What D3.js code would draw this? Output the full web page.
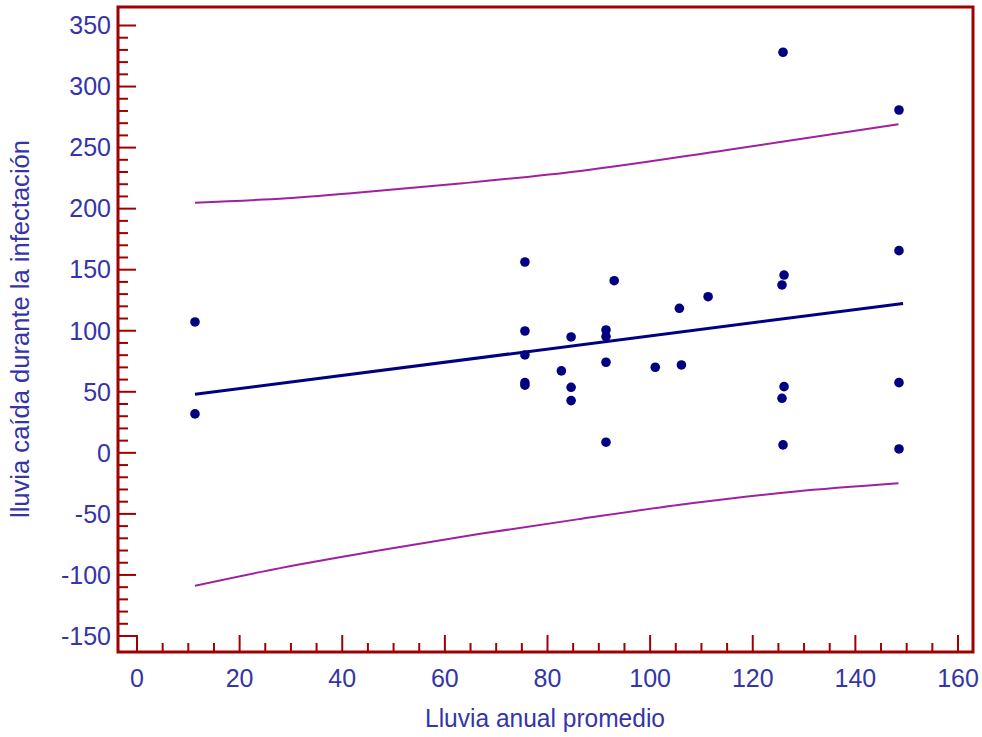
<!DOCTYPE html>
<html><head><meta charset="utf-8">
<script src="https://cdn.jsdelivr.net/npm/d3@7"></script>
<style>body{margin:0;background:#fff}svg{display:block}</style>
</head><body>
<svg id="c" width="982" height="737"></svg>
<script>
// Data
const rainAnnual = [11.3, 11.3, 75.6, 75.6, 75.6, 75.6, 75.6, 82.7, 84.6, 84.6, 84.6, 91.4, 91.4, 91.4, 91.4, 93.0, 101.0, 105.7, 106.1, 111.3, 125.9, 126.1, 125.7, 126.1, 125.7, 125.9, 148.5, 148.5, 148.5, 148.5];
const rainInfection = [107.2, 31.9, 156.3, 99.8, 80.2, 57.5, 55.4, 67.1, 94.9, 53.7, 42.8, 100.6, 95.2, 74.2, 8.7, 141.0, 70.1, 118.4, 72.0, 127.9, 328.1, 145.6, 137.5, 54.2, 44.7, 6.5, 280.8, 165.6, 57.5, 3.2];
const fitX = [11.3, 149.3];
const fitY = [48.0, 122.3];
const upperX = [11.3, 29.2, 42.8, 63.5, 86.4, 115.0, 148.4];
const upperY = [204.9, 208.5, 213.0, 220.8, 230.9, 248.1, 269.1];
const lowerX = [11.3, 27.9, 47.4, 66.9, 86.4, 108.4, 127.9, 148.4];
const lowerY = [-108.8, -94.4, -79.8, -66.3, -54.1, -41.1, -31.8, -24.9];
const xTicks = [0, 20, 40, 60, 80, 100, 120, 140, 160];
const yTicks = [-150, -100, -50, 0, 50, 100, 150, 200, 250, 300, 350];
const xTitle = "Lluvia anual promedio";
const yTitle = "lluvia caída durante la infectación";

const svg = d3.select("#c");
const x = d3.scaleLinear().domain([0, 160]).range([137, 958]);
const y = d3.scaleLinear().domain([-150, 350]).range([636, 25.5]);
const frame = {l: 118, t: 7, r: 973, b: 652};
const red = "#a00000", txt = "#3535a8", navy = "#000080", band = "#a020a0";
const font = "'Liberation Sans', Arial, sans-serif";

// minor ticks
const xMinor = d3.range(5, 161, 5).filter(v => v % 20 !== 0);
const yMinor = d3.range(-140, 351, 10).filter(v => v % 50 !== 0);
const ax = svg.append("g").attr("stroke", red).attr("stroke-width", 2);
ax.selectAll("line.xm").data(xMinor).join("line")
  .attr("x1", d => x(d)).attr("x2", d => x(d)).attr("y1", frame.b).attr("y2", frame.b - 9);
ax.selectAll("line.xM").data(xTicks).join("line")
  .attr("x1", d => x(d)).attr("x2", d => x(d)).attr("y1", frame.b).attr("y2", frame.b - 17);
ax.selectAll("line.ym").data(yMinor).join("line")
  .attr("y1", d => y(d)).attr("y2", d => y(d)).attr("x1", frame.l).attr("x2", frame.l + 10);
ax.selectAll("line.yM").data(yTicks).join("line")
  .attr("y1", d => y(d)).attr("y2", d => y(d)).attr("x1", frame.l).attr("x2", frame.l + 18);

// frame
svg.append("rect").attr("x", frame.l).attr("y", frame.t)
  .attr("width", frame.r - frame.l).attr("height", frame.b - frame.t)
  .attr("fill", "none").attr("stroke", red).attr("stroke-width", 3);

// tick labels
svg.append("g").selectAll("text").data(xTicks).join("text")
  .attr("x", d => x(d)).attr("y", 687).attr("text-anchor", "middle")
  .attr("font-family", font).attr("font-size", 25).attr("fill", txt).text(d => d);
svg.append("g").selectAll("text").data(yTicks).join("text")
  .attr("x", 111).attr("y", d => y(d)).attr("dy", "0.35em").attr("text-anchor", "end")
  .attr("font-family", font).attr("font-size", 25).attr("fill", txt).text(d => d);

// titles
svg.append("text").attr("x", 545).attr("y", 727).attr("text-anchor", "middle")
  .attr("font-family", font).attr("font-size", 25).attr("fill", txt)
  .attr("textLength", 240).attr("lengthAdjust", "spacingAndGlyphs").text(xTitle);
svg.append("text").attr("transform", "translate(29,329) rotate(-90)").attr("text-anchor", "middle")
  .attr("font-family", font).attr("font-size", 25).attr("fill", txt)
  .attr("textLength", 378).attr("lengthAdjust", "spacingAndGlyphs").text(yTitle);

// bands
const line = d3.line().x(d => x(d[0])).y(d => y(d[1])).curve(d3.curveMonotoneX);
svg.append("path").datum(upperX.map((v, i) => [v, upperY[i]])).attr("d", line)
  .attr("fill", "none").attr("stroke", band).attr("stroke-width", 2);
svg.append("path").datum(lowerX.map((v, i) => [v, lowerY[i]])).attr("d", line)
  .attr("fill", "none").attr("stroke", band).attr("stroke-width", 2);
// fit
svg.append("path").datum(fitX.map((v, i) => [v, fitY[i]])).attr("d", d3.line().x(d => x(d[0])).y(d => y(d[1])))
  .attr("fill", "none").attr("stroke", navy).attr("stroke-width", 3);

// points
svg.append("g").selectAll("circle").data(rainAnnual.map((v, i) => [v, rainInfection[i]])).join("circle")
  .attr("cx", d => x(d[0])).attr("cy", d => y(d[1])).attr("r", 4.8).attr("fill", navy);
</script>
</body></html>
